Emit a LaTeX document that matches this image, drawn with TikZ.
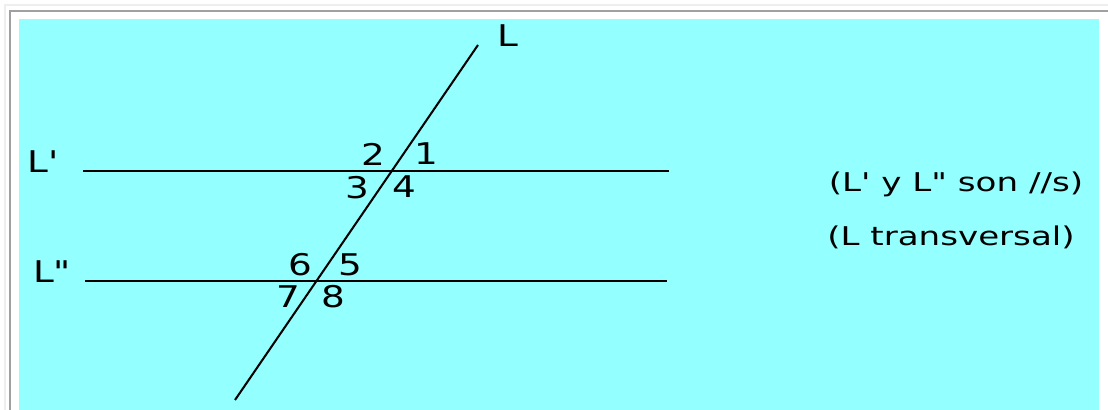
\documentclass[tikz,border=0pt]{standalone}
\usepackage{fontspec}
\newfontfamily\pixfont[FakeStretch=1.25]{DejaVu Sans}
\newfontfamily\notefont[FakeStretch=1.32]{DejaVu Sans}
\usetikzlibrary{positioning}
\definecolor{bgcyan}{RGB}{147,255,255}
\definecolor{edgelight}{RGB}{238,238,238}
\definecolor{edgedark}{RGB}{160,160,160}
\tikzset{
  lbl/.style={inner sep=0pt, font=\pixfont\fontsize{17}{20}\selectfont},
  note/.style={inner sep=0pt, anchor=base, font=\notefont\fontsize{14.7}{18}\selectfont}
}

\begin{document}
\begin{tikzpicture}[line width=1.15pt]
  \useasboundingbox (0,0) rectangle (22.16,8.2);
  \fill[white] (0,0) rectangle (22.16,8.2);
  \draw[edgelight] (0.10,0) -- (0.10,8.10) -- (22.16,8.10);
  \draw[edgedark] (0.20,0) -- (0.20,7.98) -- (22.16,7.98);
  \fill[bgcyan] (0.38,0) rectangle (21.98,7.82);

  % the two parallels and the transversal
  \coordinate (Pa) at (1.66,4.78);
  \coordinate (Pb) at (13.38,4.78);
  \coordinate (Qa) at (1.70,2.58);
  \coordinate (Qb) at (13.34,2.58);
  \coordinate (Ta) at (4.70,0.20);
  \coordinate (Tb) at (9.56,7.30);
  \draw (Pa) -- (Pb);
  \draw (Qa) -- (Qb);
  \draw (Ta) -- (Tb);

  \node[lbl] (nL) at (10.16,7.48) {L};
  \node[lbl] (nLp) at (0.87,4.96) {L'};
  \node[lbl] (nLpp) at (1.04,2.76) {L"};

  % angles
  \node[lbl] (a2) at (7.46,5.12) {2};
  \node[lbl] (a1) at (8.52,5.12) {1};
  \node[lbl] (a3) at (7.14,4.45) {3};
  \node[lbl] (a4) at (8.08,4.46) {4};
  \node[lbl] (a6) at (6.00,2.90) {6};
  \node[lbl] (a5) at (7.00,2.90) {5};
  \node[lbl] (a7) at (5.76,2.26) {7};
  \node[lbl] (a8) at (6.66,2.26) {8};

  \node[note] (par) at (19.12,4.36) {(L' y L" son //s)};
  \node[note] (trv) at (19.02,3.28) {(L transversal)};
\end{tikzpicture}
\end{document}
